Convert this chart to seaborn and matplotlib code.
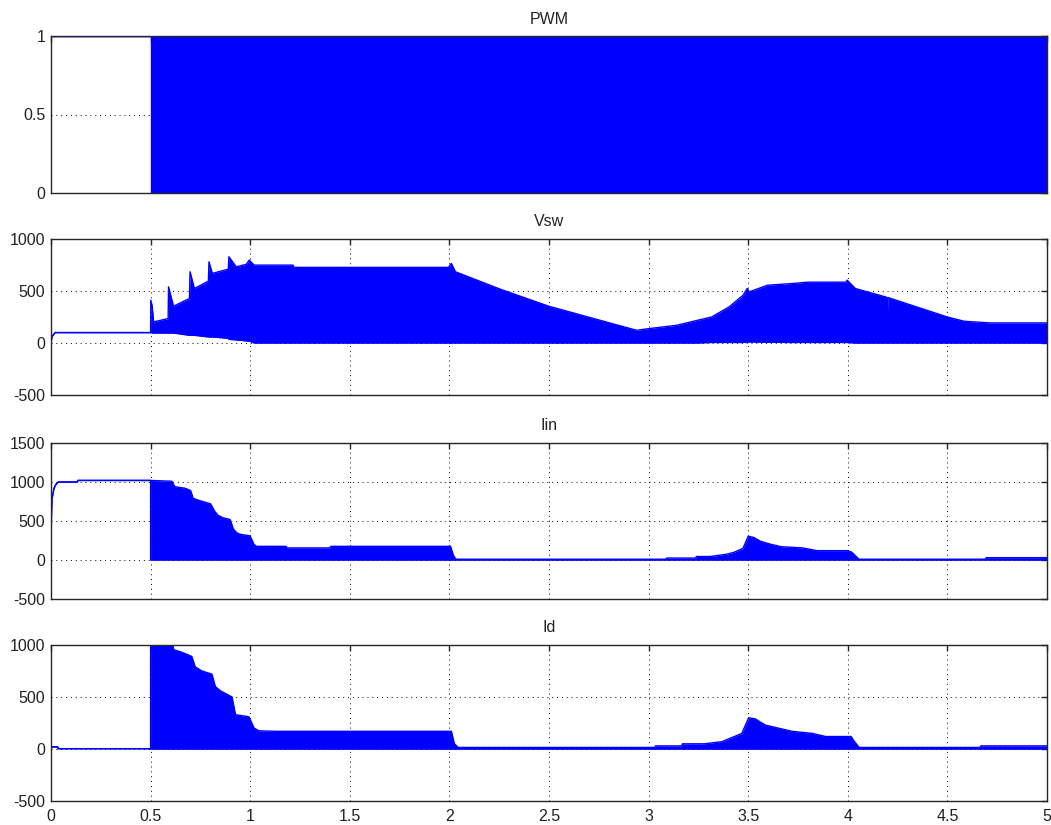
import numpy as np
import pandas as pd
import matplotlib
matplotlib.use("Agg")
import matplotlib.pyplot as plt
import seaborn as sns

# ---------------- data (envelopes of the switching waveforms) ----------------
titles = ["PWM", "Vsw", "Iin", "Id"]
x_ticks = [0, 0.5, 1, 1.5, 2, 2.5, 3, 3.5, 4, 4.5, 5]
x_tick_labels = ["0", "0.5", "1", "1.5", "2", "2.5", "3", "3.5", "4", "4.5", "5"]

pwm_t = [0, 0.5, 0.5, 5.0]
pwm_hi = [1, 1, 1, 1]
pwm_lo = [1, 1, 0, 0]
pwm_yticks = [0, 0.5, 1]
pwm_ylim = (0, 1)

vsw_t = [0, 0.005, 0.02, 0.5, 0.501, 0.508, 0.515, 0.588, 0.59, 0.615, 0.695, 0.698,
         0.72, 0.79, 0.793, 0.81, 0.89, 0.893, 0.93, 0.98, 0.995, 1.02, 1.215, 1.22,
         1.995, 2.01, 2.03, 2.26, 2.5, 2.94, 3.0, 3.14, 3.245, 3.316, 3.404, 3.474,
         3.495, 3.505, 3.598, 3.721, 3.8, 3.99, 3.997, 4.038, 4.195, 4.198, 4.202,
         4.5, 4.585, 4.717, 5.0]
vsw_hi = [0, 60, 100, 100, 412, 354, 203, 235, 540, 354, 428, 685,
          524, 595, 781, 669, 710, 829, 733, 756, 797, 749, 749, 727,
          727, 765, 685, 514, 353, 122, 138, 170, 218, 250, 347, 459,
          524, 492, 556, 572, 585, 585, 604, 524, 440, 250, 437,
          250, 209, 193, 193]
vsw_lo = [0, 60, 100, 100, 100, 96, 96, 96, 96, 96, 74, 74,
          74, 58, 58, 58, 45, 35, 30, 20, 18, 0, 0, 0,
          0, 0, 0, 0, 0, 0, 0, 0, 0, 5, 5, 5,
          10, 10, 8, 5, 5, 5, 5, 0, 0, 0, 0,
          0, 0, 0, 0]
vsw_yticks = [-500, 0, 500, 1000]
vsw_ylim = (-500, 1000)

iin_t = [0, 0.002, 0.005, 0.015, 0.025, 0.037, 0.132, 0.135, 0.5, 0.5, 0.606, 0.622,
         0.673, 0.701, 0.714, 0.748, 0.801, 0.823, 0.84, 0.865, 0.899, 0.915, 0.932,
         0.949, 0.999, 1.019, 1.032, 1.18, 1.185, 1.40, 1.405, 2.006, 2.02, 2.033,
         3.087, 3.09, 3.237, 3.24, 3.312, 3.351, 3.395, 3.43, 3.474, 3.5, 3.527,
         3.562, 3.615, 3.668, 3.774, 3.844, 4.0, 4.02, 4.056, 4.69, 4.695, 5.0]
iin_hi = [0, 540, 780, 920, 970, 1000, 1000, 1020, 1020, 1020, 1010, 940,
          920, 890, 790, 760, 720, 620, 570, 540, 520, 400, 350,
          330, 310, 200, 175, 175, 155, 155, 175, 175, 60, 10,
          10, 25, 25, 45, 45, 60, 75, 100, 150, 305, 290,
          240, 200, 170, 155, 120, 120, 100, 10, 10, 30, 30]
iin_lo = [0, 540, 780, 920, 970, 1000, 1000, 1020, 1020, 0, 0, 0,
          0, 0, 0, 0, 0, 0, 0, 0, 0, 0, 0,
          0, 0, 0, 0, 0, 0, 0, 0, 0, 0, 0,
          0, 0, 0, 0, 0, 0, 0, 0, 0, 0, 0,
          0, 0, 0, 0, 0, 0, 0, 0, 0, 0, 0]
iin_yticks = [-500, 0, 500, 1000, 1500]
iin_ylim = (-500, 1500)

id_t = [0, 0.034, 0.036, 0.5, 0.5, 0.606, 0.616, 0.657, 0.707, 0.724, 0.758, 0.808,
        0.825, 0.85, 0.909, 0.926, 0.993, 1.02, 1.044, 1.128, 2.01, 2.025, 2.044,
        3.03, 3.035, 3.165, 3.17, 3.28, 3.367, 3.418, 3.468, 3.502, 3.535, 3.586,
        3.653, 3.72, 3.822, 3.889, 4.017, 4.03, 4.057, 4.663, 4.667, 5.0]
id_hi = [20, 20, 3, 3, 1050, 1050, 955, 930, 890, 790, 750, 720,
         600, 560, 500, 330, 310, 200, 175, 170, 170, 50, 15,
         15, 30, 30, 50, 50, 70, 110, 150, 300, 290, 230,
         200, 170, 150, 120, 120, 80, 15, 15, 30, 30]
id_lo = [20, 20, 3, 3, 0, 0, 0, 0, 0, 0, 0, 0,
         0, 0, 0, 0, 0, 0, 0, 0, 0, 0, 0,
         0, 0, 0, 0, 0, 0, 0, 0, 0, 0, 0,
         0, 0, 0, 0, 0, 0, 0, 0, 0, 0]
id_yticks = [-500, 0, 500, 1000]
id_ylim = (-500, 1000)

# ---------------- style ----------------
sns.set_style("white")
plt.rcParams["font.family"] = ["Liberation Sans", "DejaVu Sans"]
plt.rcParams["font.size"] = 11.5

BLUE = (0, 0, 1)
TXT = "#222222"

fig = plt.figure(figsize=(10.51, 8.25), dpi=100)
left, width = 51 / 1051, 996 / 1051
tops = [36, 239, 443, 645]
heights = [157, 156, 156, 156]

series = [
    (pwm_t, pwm_hi, pwm_lo, pwm_yticks, pwm_ylim),
    (vsw_t, vsw_hi, vsw_lo, vsw_yticks, vsw_ylim),
    (iin_t, iin_hi, iin_lo, iin_yticks, iin_ylim),
    (id_t, id_hi, id_lo, id_yticks, id_ylim),
]

for i, (title, (t, hi, lo, yt, yl)) in enumerate(zip(titles, series)):
    top, h = tops[i], heights[i]
    ax = fig.add_axes([left, 1 - (top + h) / 825, width, h / 825])
    ax.set_axisbelow(True)
    df = pd.DataFrame({"t": t, "hi": hi, "lo": lo})
    ax.fill_between(df["t"], df["lo"], df["hi"], color=BLUE, linewidth=0, zorder=2)
    sns.lineplot(data=df, x="t", y="hi", ax=ax, color=BLUE, lw=1.0,
                 estimator=None, sort=False, zorder=3)
    sns.lineplot(data=df, x="t", y="lo", ax=ax, color=BLUE, lw=1.0,
                 estimator=None, sort=False, zorder=3)
    ax.set_xlim(0, 5)
    ax.set_ylim(*yl)
    ax.set_xticks(x_ticks)
    ax.set_yticks(yt)
    ax.set_yticklabels([f"{v:g}" for v in yt])
    if i == 3:
        ax.set_xticklabels(x_tick_labels)
    else:
        ax.set_xticklabels([])
    ax.set_xlabel("")
    ax.set_ylabel("")
    ax.set_title(title, fontsize=11.5, pad=9, color=TXT)
    ax.grid(True, which="major", color="black", linestyle=(0, (1, 4)), linewidth=0.7)
    ax.tick_params(direction="in", length=4, width=1.0, top=True, right=True,
                   colors="#262626", labelcolor=TXT, labelsize=11.5)
    ax.tick_params(axis="x", pad=6)
    ax.tick_params(axis="y", pad=4)
    for s in ax.spines.values():
        s.set_color("#262626")
        s.set_linewidth(1.0)
        s.set_zorder(5)

fig.savefig("out.png", dpi=100, facecolor="white")
